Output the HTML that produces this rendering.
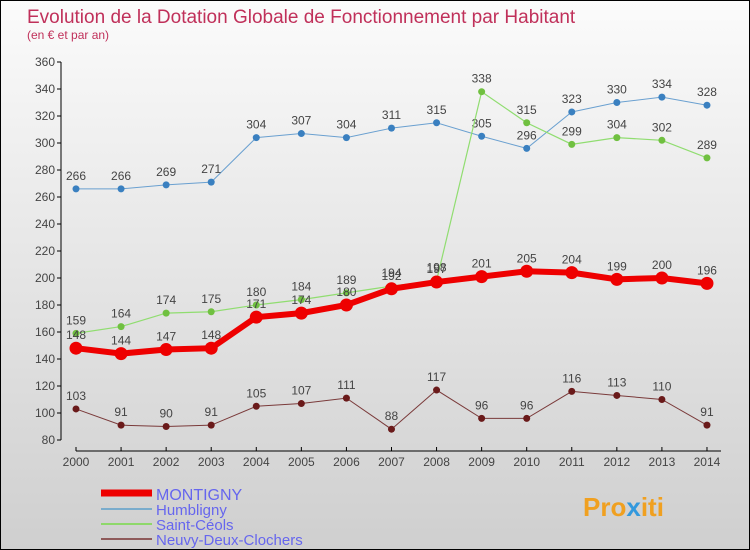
<!DOCTYPE html>
<html><head><meta charset="utf-8"><style>
body{margin:0}
#wrap{position:relative;width:748px;height:548px;border:1px solid #000;background:linear-gradient(#fbfbfb,#f2f2f2 20%,#cfcfcf);font-family:"Liberation Sans",sans-serif;overflow:hidden}
</style></head><body>
<div id="wrap">
<svg id="svg" width="748" height="548" style="position:absolute;left:0;top:0">
<text x="26" y="22" font-size="19" fill="#c0305a">Evolution de la Dotation Globale de Fonctionnement par Habitant</text>
<text x="26" y="38" font-size="12" fill="#c0305a">(en € et par an)</text>
<g id="axes"></g><g id="series"></g>
<g>
<line x1="100" y1="492" x2="151" y2="492" stroke="#e00" stroke-width="7"/>
<text x="155" y="499" font-size="16" fill="#6666ee">MONTIGNY</text>
<line x1="100" y1="508" x2="151" y2="508" stroke="#7aaccc" stroke-width="2"/>
<text x="155" y="514" font-size="15" fill="#6666ee">Humbligny</text>
<line x1="100" y1="523" x2="151" y2="523" stroke="#8ed86a" stroke-width="2"/>
<text x="155" y="529" font-size="15" fill="#6666ee">Saint-Céols</text>
<line x1="100" y1="538" x2="151" y2="538" stroke="#8e5a5a" stroke-width="2"/>
<text x="155" y="544" font-size="15" fill="#6666ee">Neuvy-Deux-Clochers</text>
</g>
<text x="582" y="515" font-size="26" font-weight="bold" fill="#f0a020">Pro<tspan fill="#3399dd">x</tspan>iti</text>
</svg>
</div>
<script>
const years=[2000,2001,2002,2003,2004,2005,2006,2007,2008,2009,2010,2011,2012,2013,2014];
const yTicks=[80,100,120,140,160,180,200,220,240,260,280,300,320,340,360];
const montigny=[148,144,147,148,171,174,180,192,197,201,205,204,199,200,196];
const humbligny=[266,266,269,271,304,307,304,311,315,305,296,323,330,334,328];
const saintCeols=[159,164,174,175,180,184,189,194,198,338,315,299,304,302,289];
const neuvy=[103,91,90,91,105,107,111,88,117,96,96,116,113,110,91];
const NS="http://www.w3.org/2000/svg";
const xs=i=>75+i*45.07;
const ys=v=>412-(v-100)*1.35;
function mk(t,a,p){const e=document.createElementNS(NS,t);for(const k in a)e.setAttribute(k,a[k]);p.appendChild(e);return e;}
const ax=document.getElementById('axes');
let yl=mk('line',{x1:60,y1:ys(360),x2:60,y2:ys(80),stroke:'#000'},ax);


yTicks.forEach(v=>{
 mk('line',{x1:56,y1:ys(v),x2:60,y2:ys(v),stroke:'#000'},ax);
 const t=mk('text',{x:54,y:ys(v)+4,'font-size':12,'text-anchor':'end',fill:'#444'},ax);
 t.textContent=v;
 
 
});
let xl=mk('line',{x1:75,y1:450,x2:720,y2:450,stroke:'#000'},ax);


years.forEach((y,i)=>{
 mk('line',{x1:xs(i),y1:446,x2:xs(i),y2:450,stroke:'#000'},ax);
 const t=mk('text',{x:xs(i),y:465,'font-size':12,'text-anchor':'middle',fill:'#444'},ax);
 t.textContent=y;
 
 
});
const sg=document.getElementById('series');
function draw(name,data,color,w,r,dot,labels){
 const g=mk('g',{},sg);
 
 
 mk('polyline',{points:data.map((v,i)=>xs(i)+','+ys(v)).join(' '),fill:'none',stroke:color,'stroke-width':w},g);
 data.forEach((v,i)=>{
  const c=mk('circle',{cx:xs(i),cy:ys(v),r:r,fill:dot},g);
  
  
  if(labels){const t=mk('text',{x:xs(i),y:ys(v)-9,'font-size':12,'text-anchor':'middle',fill:'#444'},g);
  t.textContent=v;
  
  }
 });
}
draw('neuvy',neuvy,'#7a3a3a',1,3.5,'#6a1a1a',true);
draw('humbligny',humbligny,'#6aa0d0',1,3.5,'#3a80c0',true);
draw('saint-ceols',saintCeols,'#90dd70',1.2,3.5,'#70c040',true);
draw('montigny',montigny,'#ee0000',6,6.5,'#ee0000',true);
</script>
</body></html>
